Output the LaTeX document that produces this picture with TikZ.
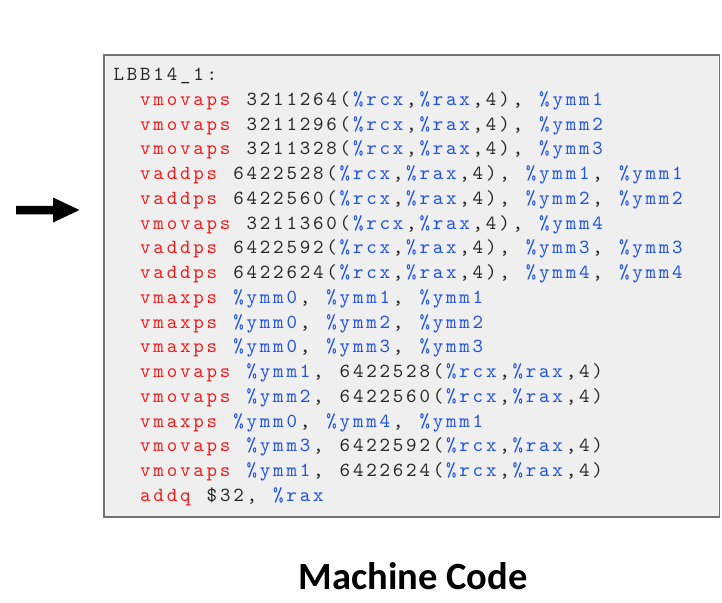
\documentclass[tikz,border=0pt]{standalone}
\usepackage{fontspec}
\newfontfamily\titlefont{Carlito}
\newfontfamily\codefont{lmmono10-regular}[Extension=.otf]
\definecolor{codered}{RGB}{245,25,25}
\definecolor{codeblue}{RGB}{30,80,235}
\definecolor{codeblack}{RGB}{40,40,40}
\definecolor{boxfill}{RGB}{239,239,239}
\definecolor{boxline}{RGB}{115,115,115}
\newlength\cellw
\setlength\cellw{13.3pt}
\ExplSyntaxOn
\cs_new_protected:Npn \cellstr #1 { \tl_map_inline:nn {#1} { \makebox[\cellw][c]{##1} } }
\ExplSyntaxOff
\newcommand\cR[1]{{\color{codered}\cellstr{#1}}}
\newcommand\cB[1]{{\color{codeblue}\cellstr{#1}}}
\newcommand\cK[1]{{\color{codeblack}\cellstr{#1}}}
\newcommand\memop[1]{\cK{#1(}\cB{\%rcx}\cK{,}\cB{\%rax}\cK{,4)}}
\tikzset{
  codeline/.style={anchor=base west, inner sep=0pt, font=\codefont\fontsize{20}{24}\selectfont},
  codebox/.style={draw=boxline, fill=boxfill, line width=1.3pt},
  titletext/.style={anchor=base, inner sep=0pt, font=\titlefont\bfseries\fontsize{38.5}{44}\selectfont},
  bigarrow/.style={fill=black}
}
\begin{document}
\begin{tikzpicture}[x=1pt,y=-1pt]
\useasboundingbox (0,0) rectangle (722,602);
\fill[white] (0,0) rectangle (722,602);
\draw[codebox] (104,55) rectangle (719.5,517);
\coordinate (a1) at (16,205.75);
\coordinate (a2) at (53,205.75);
\coordinate (a3) at (53,197.5);
\coordinate (a4) at (79.5,210);
\coordinate (a5) at (53,222.5);
\coordinate (a6) at (53,214.25);
\coordinate (a7) at (16,214.25);
\fill[bigarrow] (a1) -- (a2) -- (a3) -- (a4) -- (a5) -- (a6) -- (a7) -- cycle;
\def\xa{112.0}
\def\xb{138.6}
\node[codeline] (l0) at (\xa,80.5) {\cK{LBB14\_1:}};
\node[codeline] (l1) at (\xb,105.25) {\cR{vmovaps~}\memop{3211264}\cK{,~}\cB{\%ymm1}};
\node[codeline] (l2) at (\xb,130) {\cR{vmovaps~}\memop{3211296}\cK{,~}\cB{\%ymm2}};
\node[codeline] (l3) at (\xb,154.75) {\cR{vmovaps~}\memop{3211328}\cK{,~}\cB{\%ymm3}};
\node[codeline] (l4) at (\xb,179.5) {\cR{vaddps~}\memop{6422528}\cK{,~}\cB{\%ymm1}\cK{,~}\cB{\%ymm1}};
\node[codeline] (l5) at (\xb,204.25) {\cR{vaddps~}\memop{6422560}\cK{,~}\cB{\%ymm2}\cK{,~}\cB{\%ymm2}};
\node[codeline] (l6) at (\xb,229) {\cR{vmovaps~}\memop{3211360}\cK{,~}\cB{\%ymm4}};
\node[codeline] (l7) at (\xb,253.75) {\cR{vaddps~}\memop{6422592}\cK{,~}\cB{\%ymm3}\cK{,~}\cB{\%ymm3}};
\node[codeline] (l8) at (\xb,278.5) {\cR{vaddps~}\memop{6422624}\cK{,~}\cB{\%ymm4}\cK{,~}\cB{\%ymm4}};
\node[codeline] (l9) at (\xb,303.25) {\cR{vmaxps~}\cB{\%ymm0}\cK{,~}\cB{\%ymm1}\cK{,~}\cB{\%ymm1}};
\node[codeline] (l10) at (\xb,328) {\cR{vmaxps~}\cB{\%ymm0}\cK{,~}\cB{\%ymm2}\cK{,~}\cB{\%ymm2}};
\node[codeline] (l11) at (\xb,352.75) {\cR{vmaxps~}\cB{\%ymm0}\cK{,~}\cB{\%ymm3}\cK{,~}\cB{\%ymm3}};
\node[codeline] (l12) at (\xb,377.5) {\cR{vmovaps~}\cB{\%ymm1}\cK{,~}\memop{6422528}};
\node[codeline] (l13) at (\xb,402.25) {\cR{vmovaps~}\cB{\%ymm2}\cK{,~}\memop{6422560}};
\node[codeline] (l14) at (\xb,427) {\cR{vmaxps~}\cB{\%ymm0}\cK{,~}\cB{\%ymm4}\cK{,~}\cB{\%ymm1}};
\node[codeline] (l15) at (\xb,451.75) {\cR{vmovaps~}\cB{\%ymm3}\cK{,~}\memop{6422592}};
\node[codeline] (l16) at (\xb,476.5) {\cR{vmovaps~}\cB{\%ymm1}\cK{,~}\memop{6422624}};
\node[codeline] (l17) at (\xb,501.25) {\cR{addq~}\cK{\$32,~}\cB{\%rax}};
\node[titletext] (title) at (413.3,589.3) {Machine Code};
\end{tikzpicture}
\end{document}
